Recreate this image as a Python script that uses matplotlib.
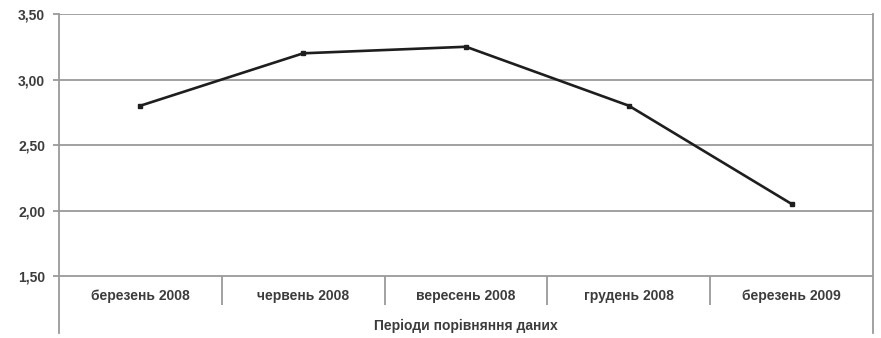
import matplotlib
matplotlib.use("Agg")
import matplotlib.pyplot as plt

plt.rcParams['font.family'] = ['Liberation Sans', 'DejaVu Sans']

periods = ["березень 2008", "червень 2008", "вересень 2008", "грудень 2008", "березень 2009"]
values = [2.80, 3.20, 3.25, 2.80, 2.05]
y_ticks = [1.50, 2.00, 2.50, 3.00, 3.50]
y_tick_labels = ["1,50", "2,00", "2,50", "3,00", "3,50"]
x_title = "Періоди порівняння даних"

fig = plt.figure(figsize=(8.81, 3.38), dpi=100)
ax = fig.add_axes([59/881, 5/338, 814/881, 319/338])

grid_c = "#9a9a9a"
txt_c = "#3c3c3c"
ax.set_xlim(-0.5, len(periods) - 0.5)
ax.set_ylim(1.065, 3.50)

for y in y_ticks:
    ax.axhline(y, color=grid_c, lw=1.3, zorder=1)

ax.plot(range(len(values)), values, color="#1e1e1e", lw=1.9,
        marker="s", markersize=3.5, zorder=3)

ax.set_yticks(y_ticks)
ax.set_yticklabels(y_tick_labels, fontsize=10, color=txt_c, fontweight="bold")
ax.tick_params(axis="y", length=4, width=1.3, color=grid_c, pad=6)
ax.set_xticks([])

for s in ("top", "bottom"):
    ax.spines[s].set_visible(False)
for s in ("left", "right"):
    ax.spines[s].set_color(grid_c)
    ax.spines[s].set_linewidth(1.3)

# category separators below the 1,50 axis line
ax.vlines([i + 0.5 for i in range(len(periods) - 1)], 1.28, 1.50,
          color=grid_c, lw=1.3, zorder=1)

for i, p in enumerate(periods):
    ax.text(i, 1.345, p, ha="center", va="center", fontsize=10,
            color=txt_c, fontweight="bold")

ax.text(0.5, 0.022, x_title, transform=ax.transAxes, ha="center", va="center",
        fontsize=10, color=txt_c, fontweight="bold")

fig.savefig("out.png", dpi=100, facecolor="white")
